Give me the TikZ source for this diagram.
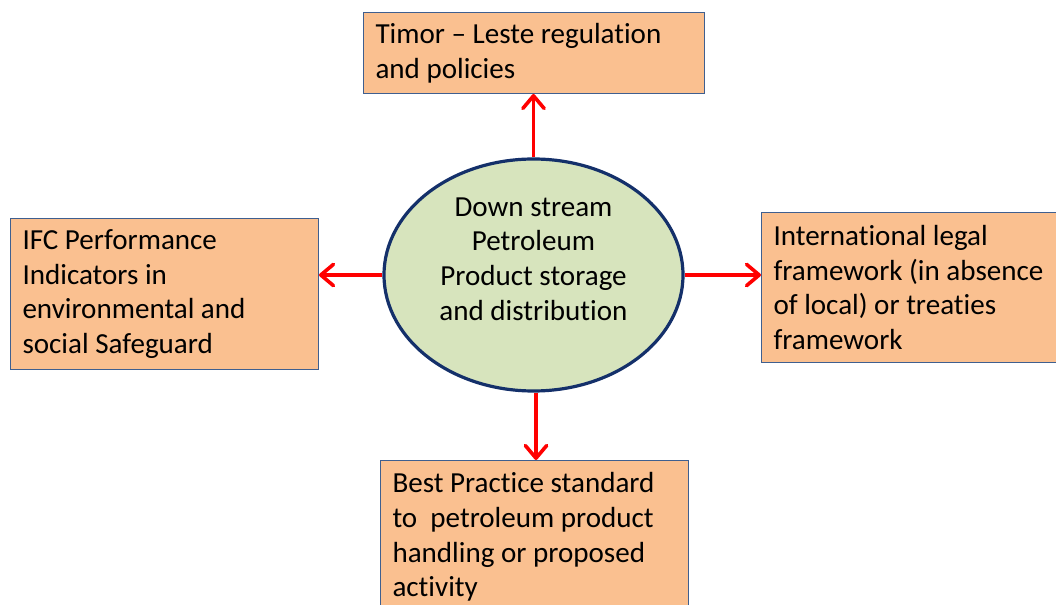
\documentclass[tikz,border=0pt]{standalone}
\usepackage{fontspec}
\setmainfont{Carlito}[Ligatures={NoCommon}]
\usetikzlibrary{arrows.meta,shapes.geometric}
\definecolor{boxfill}{HTML}{FAC090}
\definecolor{boxline}{HTML}{3F5F8F}
\definecolor{hubfill}{HTML}{D7E4BD}
\definecolor{hubline}{HTML}{14306A}
\newdimen\pxu \pxu=0.75pt
\begin{document}
\begin{tikzpicture}[x=0.75pt,y=-0.75pt,
  every node/.style={font={\fontsize{21.8pt}{26pt}\selectfont}},
  infobox/.style={draw=boxline, line width=1\pxu, fill=boxfill, rectangle,
    anchor=north west, inner xsep=12\pxu, inner ysep=0pt, align=flush left},
  hubshape/.style={draw=hubline, line width=3.2\pxu, fill=hubfill, ellipse,
    minimum width=299\pxu, minimum height=232\pxu, inner sep=0pt},
  link/.style={draw=red, line width=3.6\pxu,
    -{Straight Barb[length=9.5pt, width=16pt, round]}}]
\useasboundingbox (0,0) rectangle (1056,605);

% central ellipse and its caption
\node[hubshape] (hub) at (533.5,275) {};
\node[align=center, inner sep=0pt] (hubtext) at (533.5,259)
  {Down stream\\Petroleum\\Product storage\\and distribution};

% surrounding boxes
\node[infobox, minimum width=341\pxu, minimum height=81\pxu, text width=317\pxu]
  (reg) at (363,12) {Timor -- Leste regulation\\and policies};
\node[infobox, minimum width=308\pxu, minimum height=151\pxu, text width=284\pxu]
  (ifc) at (10,218) {IFC Performance\\Indicators in\\environmental and\\social Safeguard};
\node[infobox, minimum width=300\pxu, minimum height=150\pxu, text width=276\pxu]
  (intl) at (761,212) {International legal\\framework (in absence\\of local) or treaties\\framework};
\node[infobox, minimum width=308\pxu, minimum height=153\pxu, text width=284\pxu]
  (best) at (380,460) {Best Practice standard\\to\ \ petroleum product\\handling or proposed\\activity};

% connectors
\draw[link] (hub.north) -- (hub.north |- reg.south);
\draw[link] (hub.west) -- (hub.west -| ifc.east);
\draw[link] (hub.east) -- (hub.east -| intl.west);
\draw[link] ([xshift=2.5\pxu]hub.south) -- ([xshift=2.5\pxu]hub.south |- best.north);
\end{tikzpicture}
\end{document}
